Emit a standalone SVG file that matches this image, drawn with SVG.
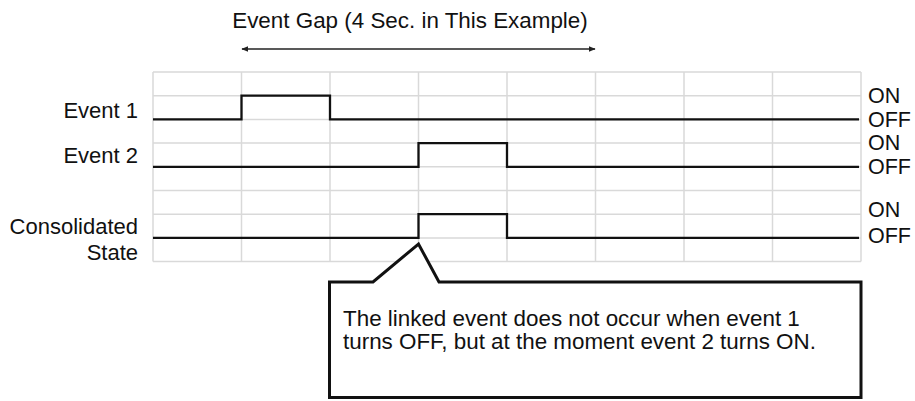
<svg xmlns="http://www.w3.org/2000/svg" width="915" height="401" viewBox="0 0 915 401">
<style>
text{font-family:"Liberation Sans",Arial,sans-serif;fill:#111}
.lbl{font-size:22px;text-anchor:end}
.st{font-size:21.5px}
.big{font-size:22.4px}
.grid line{stroke:#d9d9d9;stroke-width:1.5}
.sig{fill:none;stroke:#111;stroke-width:2.3}
</style>
<defs>
<marker id="ah" viewBox="0 0 10 10" refX="9" refY="5" markerWidth="7" markerHeight="7" markerUnits="userSpaceOnUse" orient="auto-start-reverse">
<path d="M0,1 L10,5 L0,9 Z" fill="#222"/>
</marker>
</defs>
<rect width="915" height="401" fill="#fff"/>
<g id="title"><text class="big" x="410" y="28" text-anchor="middle">Event Gap (4 Sec. in This Example)</text></g>
<g id="grid" class="grid">
<line x1="153" y1="72" x2="153" y2="261.6"/>
<line x1="241.5" y1="72" x2="241.5" y2="261.6"/>
<line x1="330" y1="72" x2="330" y2="261.6"/>
<line x1="418.5" y1="72" x2="418.5" y2="261.6"/>
<line x1="507" y1="72" x2="507" y2="261.6"/>
<line x1="595.5" y1="72" x2="595.5" y2="261.6"/>
<line x1="684" y1="72" x2="684" y2="261.6"/>
<line x1="772.5" y1="72" x2="772.5" y2="261.6"/>
<line x1="861" y1="72" x2="861" y2="261.6"/>
<line x1="153" y1="72" x2="861" y2="72"/>
<line x1="153" y1="95.7" x2="861" y2="95.7"/>
<line x1="153" y1="119.4" x2="861" y2="119.4"/>
<line x1="153" y1="143.1" x2="861" y2="143.1"/>
<line x1="153" y1="166.8" x2="861" y2="166.8"/>
<line x1="153" y1="190.5" x2="861" y2="190.5"/>
<line x1="153" y1="214.2" x2="861" y2="214.2"/>
<line x1="153" y1="237.9" x2="861" y2="237.9"/>
<line x1="153" y1="261.6" x2="861" y2="261.6"/>
</g>
<g id="event1">
<text class="lbl" x="138" y="118">Event 1</text>
<path class="sig" d="M153,119.4 H241.5 V95.7 H330 V119.4 H859"/>
<text class="st" x="868" y="103">ON</text>
<text class="st" x="868" y="127">OFF</text>
</g>
<g id="event2">
<text class="lbl" x="138" y="162.5">Event 2</text>
<path class="sig" d="M153,166.8 H418.5 V143.1 H507 V166.8 H859"/>
<text class="st" x="868" y="150">ON</text>
<text class="st" x="868" y="173.5">OFF</text>
</g>
<g id="consolidated">
<text class="lbl" x="138" y="233.5">Consolidated</text>
<text class="lbl" x="138" y="260">State</text>
<path class="sig" d="M153,237.9 H418.5 V214.2 H507 V237.9 H859"/>
<text class="st" x="868" y="217">ON</text>
<text class="st" x="868" y="243">OFF</text>
</g>
<g id="callout">
<path d="M329.5,282 H373 L418.5,244 L439,282 H861 V397.5 H329.5 Z" fill="#fff" stroke="#111" stroke-width="3" stroke-linejoin="miter"/>
<text class="big" x="343" y="326">The linked event does not occur when event 1</text>
<text class="big" x="343" y="349">turns OFF, but at the moment event 2 turns ON.</text>
</g>
<g id="connectors">
<line x1="242" y1="49" x2="595" y2="49" stroke="#222" stroke-width="1.3" marker-start="url(#ah)" marker-end="url(#ah)"/>
</g>
</svg>
